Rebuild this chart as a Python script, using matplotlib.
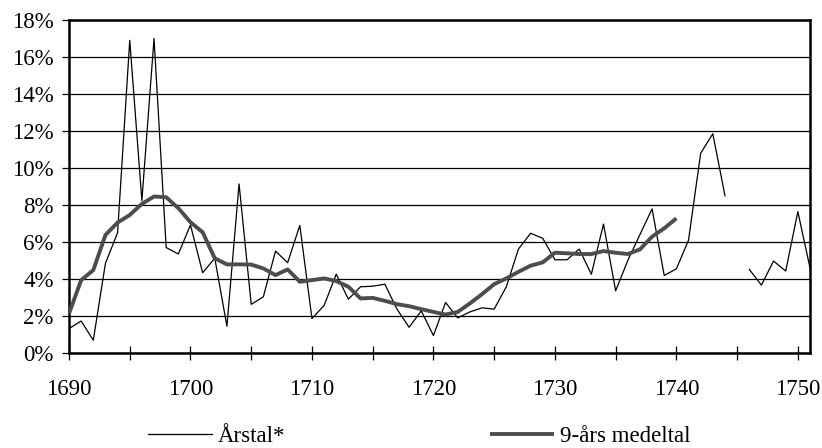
import numpy as np
import matplotlib
matplotlib.use("Agg")
import matplotlib.pyplot as plt
from matplotlib.ticker import FuncFormatter, MultipleLocator
from matplotlib.lines import Line2D

# annual values (%), 1690-1751; 1745 missing
years = list(range(1690, 1752))
annual = [1.32, 1.73, 0.69, 4.85, 6.5, 16.9, 8.24, 17.0, 5.7, 5.35,
          6.92, 4.34, 5.12, 1.45, 9.14, 2.63, 3.04, 5.51, 4.88, 6.9,
          1.86, 2.57, 4.26, 2.91, 3.58, 3.61, 3.72, 2.37, 1.39, 2.28,
          0.94, 2.73, 1.9, 2.22, 2.44, 2.37, 3.58, 5.62, 6.47, 6.2,
          5.04, 5.04, 5.62, 4.26, 6.97, 3.36, 5.0, 6.4, 7.79, 4.19,
          4.55, 6.1, 10.8, 11.85, 8.5, np.nan, 4.52, 3.67, 4.97, 4.43,
          7.64, 4.6]

# 9-year moving average (%), 1690-1740
avg_years = list(range(1690, 1741))
avg9 = [2.13, 3.94, 4.48, 6.38, 7.05, 7.46, 8.06, 8.46, 8.42, 7.83,
        7.07, 6.53, 5.12, 4.79, 4.79, 4.78, 4.57, 4.21, 4.52, 3.85,
        3.94, 4.03, 3.89, 3.58, 2.95, 2.98, 2.82, 2.64, 2.53, 2.37,
        2.22, 2.08, 2.22, 2.68, 3.18, 3.72, 4.03, 4.39, 4.72, 4.9,
        5.42, 5.39, 5.35, 5.35, 5.51, 5.42, 5.35, 5.6, 6.29, 6.74,
        7.28]

labels = ['Årstal*', '9-års medeltal']

plt.rcParams['font.family'] = ['Liberation Serif', 'DejaVu Serif']
fs = 16.5

fig = plt.figure(figsize=(8.22, 4.48), dpi=100)
ax = fig.add_axes([69/822, 1 - 353/448, (810 - 69)/822, (353 - 20)/448])

thin, = ax.plot(years, annual, color='black', lw=0.9, zorder=3)
thick, = ax.plot(avg_years, avg9, color='#4d4d4d', lw=2.8, zorder=4,
                 solid_capstyle='butt')

ax.set_xlim(1690, 1751)
ax.set_ylim(0, 18)
ax.yaxis.set_major_locator(MultipleLocator(2))
ax.yaxis.set_major_formatter(FuncFormatter(lambda v, p: f"{v:.0f}%"))
ax.xaxis.set_major_locator(MultipleLocator(10))
ax.xaxis.set_minor_locator(MultipleLocator(5))
ax.grid(axis='y', color='black', lw=0.9)

for s in ax.spines.values():
    s.set_linewidth(1.8)
    s.set_color('black')

ax.tick_params(axis='y', direction='out', length=5, width=0.9, labelsize=fs, pad=6)
ax.tick_params(axis='x', which='both', direction='inout', length=10, width=0.9,
               labelsize=fs, pad=14)

# two separate legend entries, as in the original
for handle, lab, xpos in [(thin, labels[0], 148/822), (thick, labels[1], 490/822)]:
    fig.legend([handle], [lab], loc='center left', bbox_to_anchor=(xpos, 12/448),
               frameon=False, fontsize=fs, handlelength=2.8, handletextpad=0.25,
               borderpad=0, borderaxespad=0)

fig.savefig('out.png', dpi=100)
